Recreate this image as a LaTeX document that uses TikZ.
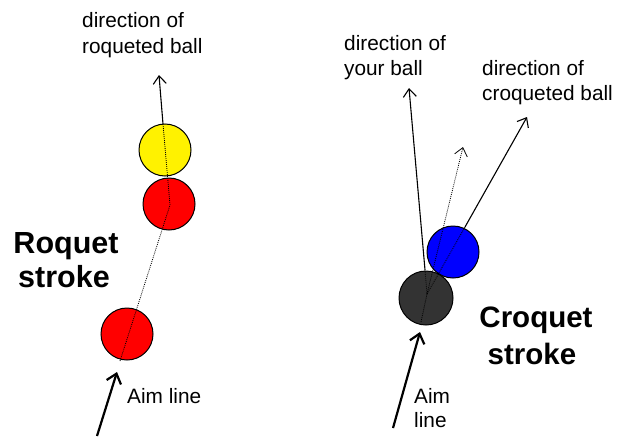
\documentclass[tikz,border=0pt]{standalone}
\usepackage{fontspec}
\setmainfont{Liberation Sans}
\usetikzlibrary{arrows.meta}
\definecolor{darkball}{HTML}{333333}
\begin{document}
\begin{tikzpicture}[x=1pt,y=-1pt,
  ball/.style={circle,draw=black,line width=1pt,minimum size=#1,inner sep=0pt},
  lbl/.style={anchor=base west,inner sep=0pt,font=\fontsize{20.8}{24}\selectfont},
  big/.style={anchor=base,inner sep=0pt,font=\fontsize{30.5}{34}\selectfont\bfseries},
  bigc/.style={anchor=base,inner sep=0pt,font=\fontsize{29.5}{34}\selectfont\bfseries},
  dirarrow/.style={line width=1.1pt,-{Straight Barb[length=8pt,width=13pt,line width=1.1pt]}},
  aimarrow/.style={line width=2.2pt,-{Straight Barb[length=9pt,width=15pt,line width=2.2pt]}},
  dotl/.style={line width=0.8pt,dash pattern=on 0.9pt off 1.1pt},
  dotarrow/.style={dotl,-{Straight Barb[length=8pt,width=13pt,line width=0.8pt]}}]
\useasboundingbox (0,0) rectangle (617,436);

% ---------- left: roquet ----------
\node[ball=52pt,fill=yellow] (yel) at (165,150) {};
\node[ball=52pt,fill=red] (redtop) at (169,204) {};
\node[ball=52pt,fill=red] (redbot) at (127,334) {};

\coordinate (ldotA) at (120,361);
\coordinate (ldotB) at (170,205);
\coordinate (ldotC) at (163,124);
\coordinate (ltip) at (159,75);
\draw[dotl] (ldotA) -- (ldotB) -- (ldotC);
\draw[dirarrow] (ldotC) -- (ltip);

\coordinate (laimS) at (97,436);
\coordinate (laimE) at (117,372);
\draw[aimarrow] (laimS) -- (laimE);

\node[lbl] (ld1) at (82,28) {direction of};
\node[lbl] (ld2) at (82,53) {roqueted ball};
\node[lbl] (laim) at (127,403) {Aim line};
\node[big] (rq1) at (66,253) {Roquet};
\node[big] (rq2) at (64,287) {stroke};

% ---------- right: croquet ----------
\node[ball=52pt,fill=blue] (blu) at (453,252) {};
\node[ball=54pt,fill=darkball] (drk) at (426,298) {};

\coordinate (F) at (427,294);
\coordinate (rbot) at (421,322);
\coordinate (ytop) at (425,270);
\coordinate (ctop) at (465,227);
\coordinate (ytip) at (409,88);
\coordinate (ctip) at (527,117);
\coordinate (dtip) at (463,147);
\draw[dotl] (rbot) -- (F) -- (ytop);
\draw[dotl] (F) -- (ctop);
\draw[dotarrow] (F) -- (dtip);
\draw[dirarrow] (ytop) -- (ytip);
\draw[dirarrow] (ctop) -- (ctip);

\coordinate (raimS) at (393,428);
\coordinate (raimE) at (420,332);
\draw[aimarrow] (raimS) -- (raimE);

\node[lbl] (yd1) at (344,50) {direction of};
\node[lbl] (yd2) at (344,75) {your ball};
\node[lbl] (cd1) at (482,75) {direction of};
\node[lbl] (cd2) at (482,100) {croqueted ball};
\node[lbl] (raim1) at (414,403) {Aim};
\node[lbl] (raim2) at (414,427) {line};
\node[bigc] (cq1) at (536,327) {Croquet};
\node[bigc] (cq2) at (532,364) {stroke};
\end{tikzpicture}
\end{document}
